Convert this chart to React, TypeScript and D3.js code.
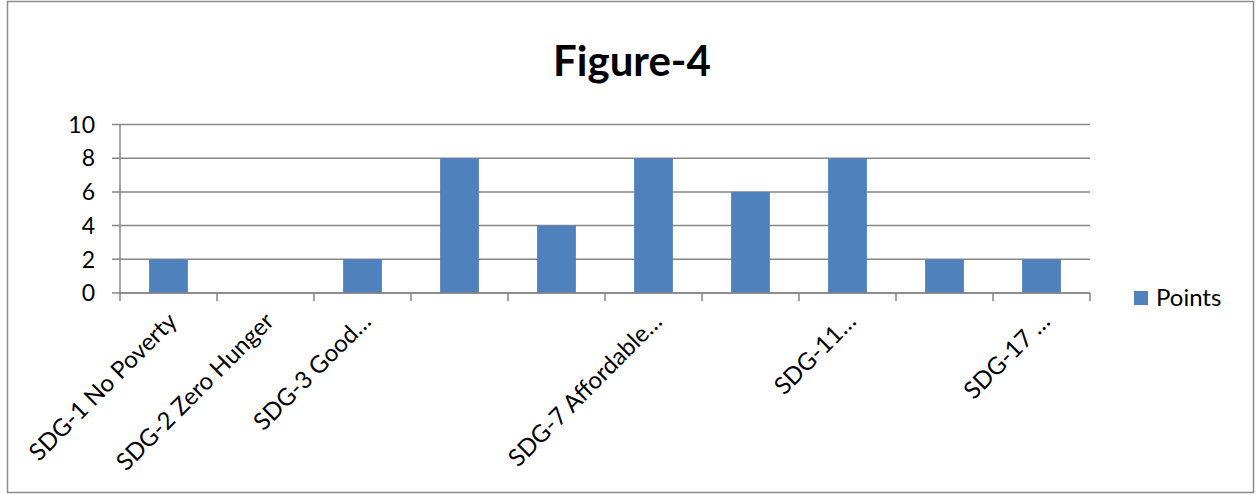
import React from "react";
import * as d3 from "d3";

const categories = [
  "SDG-1 No Poverty",
  "SDG-2 Zero Hunger",
  "SDG-3 Good…",
  "",
  "",
  "SDG-7  Affordable…",
  "",
  "SDG-11…",
  "",
  "SDG-17 …",
];
const points = [2, 0, 2, 8, 4, 8, 6, 8, 2, 2];
const yTicks = [0, 2, 4, 6, 8, 10];
const seriesName = "Points";
const title = "Figure-4";

const W = 1256;
const H = 495;
const FONT = "Lato, 'Open Sans', sans-serif";
const BLUE = "#4F81BD";
const GRID = "#868686";

export default function App() {
  const left = 120;
  const right = 1090;
  const top = 124.5;
  const bottom = 293;
  const x = d3
    .scaleBand<number>()
    .domain(d3.range(categories.length))
    .range([left, right])
    .paddingInner(0.6)
    .paddingOuter(0.3);
  const band = (right - left) / categories.length;
  const y = d3.scaleLinear().domain([0, 10]).range([bottom, top]);

  return (
    <svg
      width={W}
      height={H}
      style={{ position: "absolute", left: 0, top: 0, background: "#fff" }}
      fontFamily={FONT}
    >
      <rect x={7.5} y={1.5} width={1246} height={491} fill="#fff" stroke="#8a8a8a" strokeWidth={1.5} />
      <text x={632} y={76} textAnchor="middle" fontSize={42} fontWeight="bold" fill="#000">
        {title}
      </text>
      {yTicks.map((t) => (
        <g key={t}>
          <line x1={left - 8} x2={right} y1={y(t)} y2={y(t)} stroke={GRID} strokeWidth={1.5} />
          <text x={95} y={y(t)} dy="0.36em" textAnchor="end" fontSize={23} fill="#000">
            {t}
          </text>
        </g>
      ))}
      <line x1={left} x2={left} y1={top} y2={bottom} stroke={GRID} strokeWidth={1.5} />
      {d3.range(categories.length + 1).map((i) => (
        <line
          key={i}
          x1={left + i * band}
          x2={left + i * band}
          y1={bottom}
          y2={bottom + 8}
          stroke={GRID}
          strokeWidth={1.5}
        />
      ))}
      {points.map((v, i) => (
        <rect
          key={i}
          x={x(i)}
          y={y(v)}
          width={x.bandwidth()}
          height={bottom - y(v)}
          fill={BLUE}
        />
      ))}
      <line x1={left} x2={right} y1={bottom} y2={bottom} stroke={GRID} strokeWidth={1.5} />
      {categories.map((c, i) => (
        <text
          key={i}
          transform={`translate(${left + (i + 0.5) * band - 2},${bottom + 18}) rotate(-45)`}
          textAnchor="end"
          fontSize={24}
          dy="0.7em"
          fill="#000"
        >
          {c}
        </text>
      ))}
      <rect x={1134} y={291} width={14} height={14} fill={BLUE} />
      <text x={1156} y={306} fontSize={24} fill="#000">
        {seriesName}
      </text>
    </svg>
  );
}
